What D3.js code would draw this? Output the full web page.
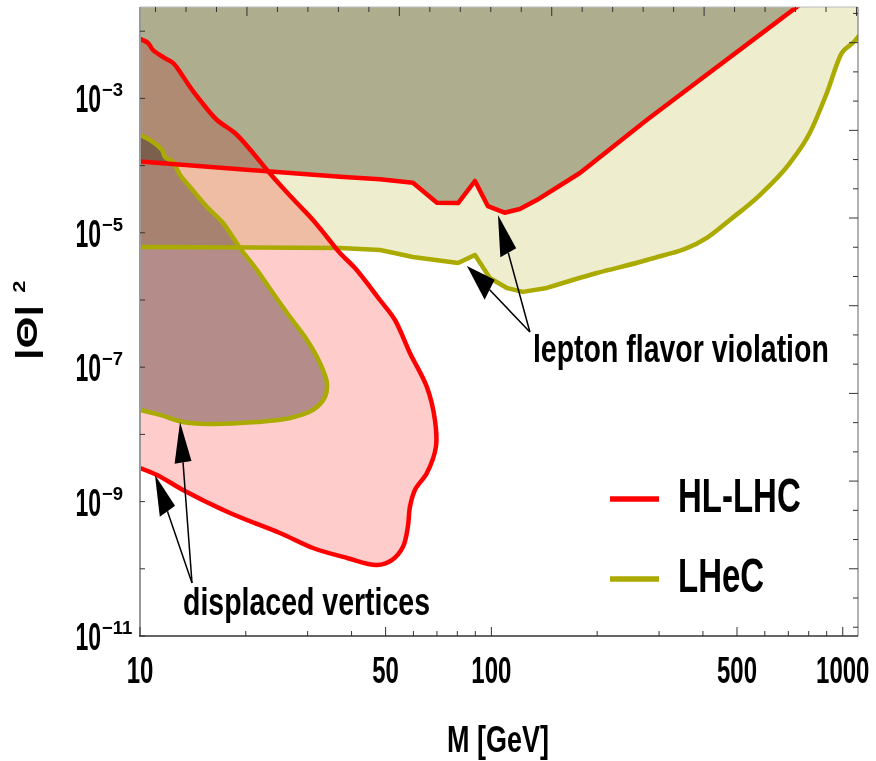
<!DOCTYPE html>
<html>
<head>
<meta charset="utf-8">
<script src="https://cdn.jsdelivr.net/npm/d3@7"></script>
<style>
html,body{margin:0;padding:0;background:#fff;}
svg{display:block;}
text{font-family:"Liberation Sans",Arial,Helvetica,sans-serif;font-weight:bold;fill:#000;}
</style>
</head>
<body>
<script>
// ---------------- DATA ----------------
const xTickValues = [10,20,30,40,50,60,70,80,90,100,200,300,400,500,600,700,800,900,1000];
const xTickLabels = ["10","50","100","500","1000"];
const yTickExponents = [-2,-3,-4,-5,-6,-7,-8,-9,-10,-11];
const yTickLabelExponents = ["-3","-5","-7","-9","-11"];

// HL-LHC prompt (lepton flavor violation) lower boundary
const hlPromptM = [10, 37.1, 48.2, 59.8, 70.0, 80.4, 89.8, 97.7, 109, 120.5, 134.6, 178.6, 276.7, 391.6, 739.5, 1047];
const hlPromptTheta = [1.15e-4, 6.8e-5, 6.25e-5, 5.57e-5, 2.8e-5, 2.77e-5, 5.9e-5, 2.5e-5, 1.99e-5, 2.26e-5, 3.07e-5, 7.76e-5, 4.78e-4, 1.88e-3, 2.29e-2, 8.1e-2];

// LHeC prompt (lepton flavor violation) lower boundary
const lhecPromptM = [10, 37.1, 48.2, 59.8, 80.4, 89.8, 99.0, 110.7, 122.9, 143.8, 199.6, 276.9, 410.3, 477, 580.7, 706.9, 805.5, 900.6, 993.6, 1067, 1118];
const lhecPromptTheta = [6.15e-6, 5.94e-6, 5.55e-6, 4.37e-6, 3.56e-6, 4.68e-6, 2.12e-6, 1.51e-6, 1.32e-6, 1.51e-6, 2.52e-6, 3.94e-6, 8.37e-6, 1.55e-5, 3.65e-5, 1.09e-4, 3.05e-4, 1.20e-3, 4.74e-3, 6.67e-3, 8.77e-3];

// HL-LHC displaced vertices contour
const hlDisplacedM = [10, 10.54, 10.89, 11.63, 12.41, 13.17, 13.88, 14.81, 16.56, 18.63, 20.97, 22.98, 25.51, 27.97, 31.06, 34.04, 37.07, 40.90, 48.18, 53.15, 58.63, 65.54, 69.07, 69.52, 65.54, 60.59, 58.63, 57.85, 55.99, 52.11, 47.24, 38.81, 31.06, 25.01, 18.03, 13.25, 11.18, 10];
const hlDisplacedTheta = [7.66e-3, 6.67e-3, 5.25e-3, 4.13e-3, 3.37e-3, 2.23e-3, 1.48e-3, 9.46e-4, 4.77e-4, 3.05e-4, 1.54e-4, 8.61e-5, 4.65e-5, 2.77e-5, 1.55e-5, 8.67e-6, 5.0e-6, 2.99e-6, 1.0e-6, 5.04e-7, 1.63e-7, 5.07e-8, 1.64e-8, 6.49e-9, 2.67e-9, 1.49e-9, 8.31e-10, 4.19e-10, 2.11e-10, 1.35e-10, 1.14e-10, 1.45e-10, 2.04e-10, 3.41e-10, 6.76e-10, 1.49e-9, 2.49e-9, 3.16e-9];

// LHeC displaced vertices contour
const lhecDisplacedM = [10, 10.68, 11.55, 11.78, 12.41, 13.00, 13.88, 15.51, 17.22, 19.25, 21.52, 23.89, 26.72, 29.86, 32.52, 34.04, 33.60, 31.06, 26.72, 21.52, 15.51, 13.25, 11.40, 10];
const lhecDisplacedTheta = [2.85e-4, 2.40e-4, 1.71e-4, 1.34e-4, 1.13e-4, 7.24e-5, 4.81e-5, 2.42e-5, 1.40e-5, 5.94e-6, 2.79e-6, 1.27e-6, 5.58e-7, 2.54e-7, 1.15e-7, 5.82e-8, 3.61e-8, 2.31e-8, 1.75e-8, 1.53e-8, 1.43e-8, 1.53e-8, 1.95e-8, 2.31e-8];

// annotations (data coordinates)
const lfvLabel = "lepton flavor violation";
const lfvOrigin = [128.7, 3.34e-7];
const lfvTipsM = [85.2, 104.4];
const lfvTipsTheta = [3.21e-6, 1.84e-5];
const dvLabel = "displaced vertices";
const dvOrigin = [14.06, 6.15e-11];
const dvTipsM = [11.03, 13.0];
const dvTipsTheta = [2.49e-9, 1.53e-8];

const legendLabels = ["HL-LHC", "LHeC"];
const seriesColors = {hl: "#ff0000", lhec: "#aaaa00"};

// ---------------- CHART ----------------
const W = 876, H = 761;
const pLeft = 140, pRight = 858, pTop = 7, pBottom = 636;
const SY = 1.45; // vertical stretch of glyphs in the original

const svg = d3.select("body").append("svg").attr("width", W).attr("height", H);
svg.append("rect").attr("width", W).attr("height", H).attr("fill", "#fff");

const x = d3.scaleLog().domain([10, 1105]).range([pLeft, pRight]);
const y = d3.scaleLog().domain([1e-11, Math.pow(10, -1.64)]).range([pBottom, pTop]);
const topScale = d3.scaleLinear().domain([-3.51, 20.05]).range([pLeft, pRight]);
const rightScale = d3.scaleLinear().domain([-0.22, 21.3]).range([pTop, pBottom]);

svg.append("clipPath").attr("id", "plotclip").append("rect")
  .attr("x", pLeft).attr("y", pTop).attr("width", pRight - pLeft).attr("height", pBottom - pTop);

const plot = svg.append("g").attr("clip-path", "url(#plotclip)").style("isolation", "isolate");

const zip = (ms, ts) => ms.map((m, i) => [m, ts[i]]);
const hlPrompt = zip(hlPromptM, hlPromptTheta);
const lhecPrompt = zip(lhecPromptM, lhecPromptTheta);
const hlDisp = zip(hlDisplacedM, hlDisplacedTheta);
const lhecDisp = zip(lhecDisplacedM, lhecDisplacedTheta);

const lineLin = d3.line().x(d => x(d[0])).y(d => y(d[1])).curve(d3.curveLinear);
const lineMono = d3.line().x(d => x(d[0])).y(d => y(d[1])).curve(d3.curveMonotoneX);
const lineSmooth = d3.line().x(d => x(d[0])).y(d => y(d[1])).curve(d3.curveCatmullRom.alpha(0.5));

// LHeC prompt: sharp features at low mass, smooth curve at high mass
const lhecSplit = 9;
const lhecPromptPath = lineLin(lhecPrompt.slice(0, lhecSplit + 1)) + lineMono(lhecPrompt.slice(lhecSplit)).replace(/^M/, "L");
const hlPromptPath = lineLin(hlPrompt);

const yTopFar = 1; // above plot top, clipped
const xMin = x.domain()[0];
function closeToTop(pathStr, pts) {
  const last = pts[pts.length - 1];
  const extra = [[last[0] * 1.5, yTopFar], [xMin / 1.5, yTopFar], [xMin / 1.5, pts[0][1]]];
  return pathStr + extra.map(p => "L" + x(p[0]) + "," + y(p[1])).join("") + "Z";
}

// fills (multiply blending reproduces the overlap shades)
plot.append("path").attr("d", closeToTop(lhecPromptPath, lhecPrompt)).attr("fill", "rgb(238,237,205)").style("mix-blend-mode", "multiply");
plot.append("path").attr("d", lineSmooth(hlDisp) + "Z").attr("fill", "rgb(255,204,204)").style("mix-blend-mode", "multiply");
plot.append("path").attr("d", closeToTop(hlPromptPath, hlPrompt)).attr("fill", "rgb(187,187,177)").style("mix-blend-mode", "multiply");
plot.append("path").attr("d", lineSmooth(lhecDisp) + "Z").attr("fill", "rgb(180,176,174)").style("mix-blend-mode", "multiply");

// strokes
const strokeG = svg.append("g").attr("clip-path", "url(#plotclip)");
strokeG.append("path").attr("d", lineSmooth(lhecDisp)).attr("fill", "none").attr("stroke", seriesColors.lhec).attr("stroke-width", 4.5).attr("stroke-linejoin", "round");
strokeG.append("path").attr("d", lhecPromptPath).attr("fill", "none").attr("stroke", seriesColors.lhec).attr("stroke-width", 4.5).attr("stroke-linejoin", "round");
strokeG.append("path").attr("d", lineSmooth(hlDisp)).attr("fill", "none").attr("stroke", seriesColors.hl).attr("stroke-width", 4.5).attr("stroke-linejoin", "round");
strokeG.append("path").attr("d", hlPromptPath).attr("fill", "none").attr("stroke", seriesColors.hl).attr("stroke-width", 4.5).attr("stroke-linejoin", "round");

// frame
svg.append("line").attr("x1", pLeft).attr("x2", pRight).attr("y1", pTop).attr("y2", pTop).attr("stroke", "#bbb").attr("stroke-width", 1);
svg.append("line").attr("x1", pRight).attr("x2", pRight).attr("y1", pTop).attr("y2", pBottom).attr("stroke", "#666").attr("stroke-width", 1);
svg.append("line").attr("x1", pLeft).attr("x2", pLeft).attr("y1", pTop).attr("y2", pBottom).attr("stroke", "#999").attr("stroke-width", 2);
svg.append("line").attr("x1", pLeft - 1).attr("x2", pRight).attr("y1", pBottom).attr("y2", pBottom).attr("stroke", "#333").attr("stroke-width", 1.5);

// bottom ticks
const majorX = xTickLabels.map(Number);
svg.append("g").selectAll("line").data(xTickValues).join("line")
  .attr("x1", d => x(d)).attr("x2", d => x(d))
  .attr("y1", pBottom).attr("y2", d => pBottom - (majorX.includes(d) ? 9 : 5))
  .attr("stroke", "#333").attr("stroke-width", 1);
// top ticks
svg.append("g").selectAll("line").data(d3.range(-3, 21)).join("line")
  .attr("x1", d => topScale(d)).attr("x2", d => topScale(d))
  .attr("y1", pTop).attr("y2", d => pTop + (d % 5 === 0 ? 9 : 5))
  .attr("stroke", "#333").attr("stroke-width", 1);
// left ticks
svg.append("g").selectAll("line").data(yTickExponents).join("line")
  .attr("x1", pLeft).attr("x2", pLeft + 5)
  .attr("y1", d => y(Math.pow(10, d))).attr("y2", d => y(Math.pow(10, d)))
  .attr("stroke", "#333").attr("stroke-width", 1);
// right ticks
svg.append("g").selectAll("line").data(d3.range(0, 22)).join("line")
  .attr("x1", pRight).attr("x2", d => pRight - (d % 3 === 1 ? 9 : 5))
  .attr("y1", d => rightScale(d)).attr("y2", d => rightScale(d))
  .attr("stroke", "#333").attr("stroke-width", 1);

function sText(g, px, py, str, size, sy, anchor) {
  return g.append("text").attr("transform", `translate(${px},${py}) scale(1,${sy})`)
    .attr("text-anchor", anchor || "start").attr("font-size", size).text(str);
}

// x tick labels
xTickLabels.forEach(l => sText(svg, x(+l), 683, l, 24, 1.55, "middle"));
// y tick labels
yTickLabelExponents.forEach(e => {
  const py = y(Math.pow(10, +e));
  sText(svg, 101, py + 14, "10", 23, 1.65, "end");
  sText(svg, 102, py - 2, "\u2212" + e.slice(1), 18.5, 1.0, "start");
});

// axis titles
sText(svg, 498, 752, "M [GeV]", 27, 1.4, "middle");
const yl = svg.append("g").attr("transform", "translate(36.7,360) rotate(-90) scale(1.37,1)");
yl.append("text").attr("x", 0).attr("y", 0).attr("font-size", 30).text("|\u0398|");
yl.append("text").attr("x", 49).attr("y", -11.7).attr("font-size", 16).text("2");

// legend
[[seriesColors.hl, 499, 512], [seriesColors.lhec, 579, 592]].forEach((c, i) => {
  svg.append("line").attr("x1", 610).attr("x2", 659).attr("y1", c[1]).attr("y2", c[1]).attr("stroke", c[0]).attr("stroke-width", 5.5);
  sText(svg, 678, c[2], legendLabels[i], 33, 1.45, "start");
});

// arrows
function arrow(from, tipM, tipT) {
  const fx = x(from[0]), fy = y(from[1]);
  const tx = x(tipM), ty = y(tipT);
  let dx = tx - fx, dy = (ty - fy) / SY;
  const len = Math.hypot(dx, dy); dx /= len; dy /= len;
  const L = 28, Wd = 8.5;
  const bx = tx - L * dx, by = ty - L * dy * SY;
  const px = -dy, py = dx;
  svg.append("line").attr("x1", fx).attr("y1", fy).attr("x2", bx).attr("y2", by).attr("stroke", "#000").attr("stroke-width", 1.5);
  const pts = [[tx, ty], [bx + Wd * px, by + Wd * py * SY], [bx - Wd * px, by - Wd * py * SY]];
  svg.append("path").attr("d", "M" + pts.map(p => p.join(",")).join("L") + "Z").attr("fill", "#000");
}
lfvTipsM.forEach((m, i) => arrow(lfvOrigin, m, lfvTipsTheta[i]));
dvTipsM.forEach((m, i) => arrow(dvOrigin, m, dvTipsTheta[i]));

sText(svg, x(lfvOrigin[0]) + 3, y(lfvOrigin[1]) + 30, lfvLabel, 28.5, 1.33, "start");
sText(svg, x(dvOrigin[0]) - 9, y(dvOrigin[1]) + 32, dvLabel, 28.5, 1.33, "start");
</script>
</body>
</html>
